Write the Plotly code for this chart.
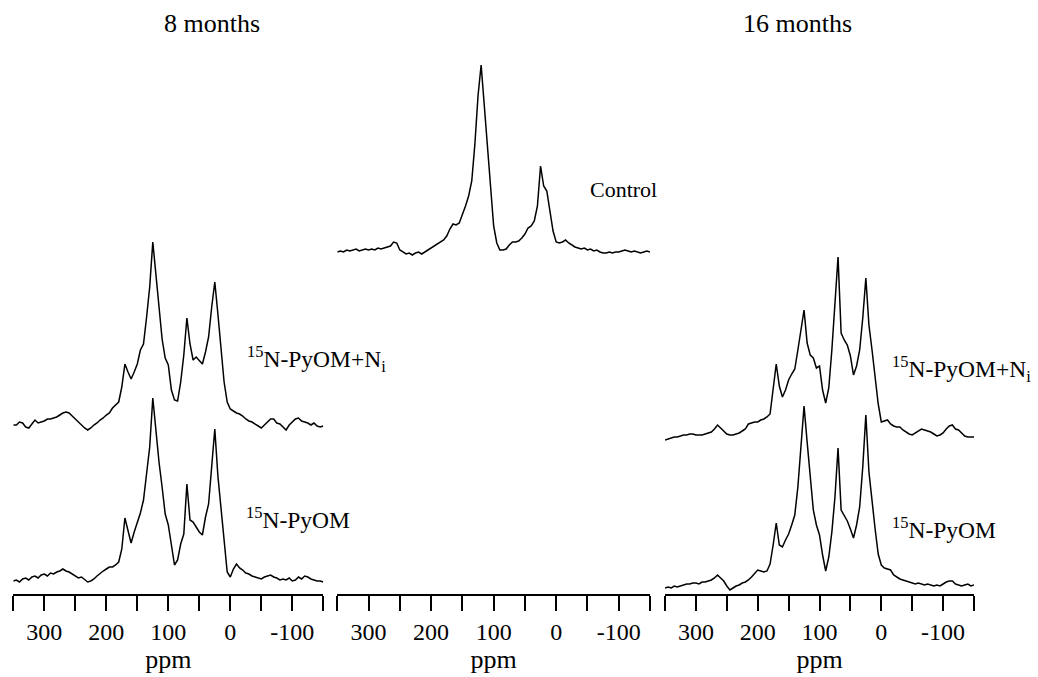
import plotly.graph_objects as go

W, H = 1038, 677
FONT = "Liberation Serif, Times New Roman, serif"

# chemical shift grid (ppm), high to low
PPM = list(range(350, -151, -5))

# 8 months: 15N-PyOM+Ni
pyom_ni_8 = [
    2, 2, 5, 4, 0, -1, 3, 7, 4, 5,
    6, 8, 8, 9, 10, 12, 14, 15, 14, 11,
    8, 4, 1, -1, -3, -1, 2, 4, 7, 9,
    12, 14, 19, 22, 25, 40, 63, 55, 48, 55,
    63, 77, 83, 110, 140, 185, 155, 118, 88, 69,
    62, 37, 27, 26, 45, 72, 109, 83, 67, 70,
    66, 63, 75, 90, 120, 145, 113, 75, 45, 25,
    18, 16, 14, 13, 11, 8, 6, 5, 3, 1,
    -1, 2, 5, 8, 8, 4, 3, 0, -3, 2,
    5, 8, 9, 6, 5, 4, 2, 4, 1, 0,
    1,
]

# 8 months: 15N-PyOM
pyom_8 = [
    1, 2, 0, 3, 4, 2, 5, 6, 4, 7,
    8, 6, 9, 8, 10, 11, 13, 11, 10, 8,
    6, 4, 5, 2, 0, 1, 3, 6, 9, 11,
    13, 15, 15, 17, 20, 33, 64, 50, 39, 50,
    59, 69, 82, 110, 135, 184, 150, 120, 95, 68,
    57, 35, 17, 22, 38, 48, 98, 62, 60, 55,
    50, 47, 65, 78, 120, 153, 106, 75, 40, 10,
    5, 13, 18, 14, 12, 9, 8, 6, 5, 4,
    3, 5, 6, 7, 5, 4, 2, 3, 2, 4,
    1, 2, 5, 3, 6, 5, 3, 2, 1, 1,
    0,
]

# Control
control = [
    -1, 0, -1, 1, 0, 1, 2, 0, 1, 2,
    1, 2, 1, 3, 2, 3, 4, 5, 9, 8,
    1, -1, -3, -2, -4, -2, -1, -3, -1, 1,
    3, 5, 7, 9, 11, 15, 22, 27, 26, 28,
    36, 45, 55, 70, 107, 155, 186, 145, 104, 60,
    25, 8, 1, 1, 2, 6, 9, 9, 10, 13,
    17, 23, 25, 30, 45, 85, 65, 60, 40, 20,
    9, 8, 9, 11, 8, 6, 4, 3, 2, 3,
    1, 2, 0, 1, -1, -2, -2, -1, -2, -1,
    -1, 0, 1, 0, -1, 0, -1, -2, -1, 0,
    -1,
]

# 16 months: 15N-PyOM+Ni
pyom_ni_16 = [
    -2, -1, 0, 1, 1, 2, 3, 3, 4, 4,
    3, 3, 3, 4, 5, 6, 9, 13, 10, 7,
    4, 3, 3, 4, 5, 7, 9, 14, 15, 16,
    16, 18, 19, 21, 24, 50, 74, 52, 41, 48,
    58, 64, 69, 88, 110, 128, 95, 83, 80, 70,
    72, 48, 35, 50, 88, 140, 181, 105, 98, 93,
    82, 63, 72, 88, 120, 160, 113, 88, 62, 34,
    16, 17, 18, 14, 12, 11, 11, 8, 6, 4,
    3, 5, 7, 9, 8, 7, 6, 4, 2, 3,
    5, 9, 12, 13, 9, 8, 5, 2, 1, 1,
    1,
]

# 16 months: 15N-PyOM
pyom_16 = [
    -1, 0, -1, 1, 0, 1, 2, 3, 3, 4,
    4, 3, 5, 5, 6, 7, 9, 12, 9, 6,
    1, -3, -1, 1, 2, 4, 5, 7, 10, 13,
    17, 16, 15, 16, 23, 42, 64, 42, 40, 47,
    53, 62, 72, 100, 143, 181, 145, 110, 77, 62,
    52, 32, 16, 30, 55, 90, 139, 77, 71, 66,
    58, 49, 62, 80, 120, 172, 115, 85, 58, 33,
    22, 19, 18, 17, 12, 10, 8, 7, 6, 5,
    4, 3, 4, 3, 2, 3, 2, 1, 2, 1,
    3, 5, 6, 6, 3, 2, 1, 2, 3, 1,
    2,
]

TICK_VALS = [350, 300, 250, 200, 150, 100, 50, 0, -50, -100, -150]
TICK_TEXT = ["", "300", "", "200", "", "100", "", "0", "", "-100", ""]

# stacking: (panel, spectrum, vertical offset in display units)
stack = [
    (1, pyom_ni_8, 167),
    (1, pyom_8, 12),
    (2, control, 343),
    (3, pyom_ni_16, 156),
    (3, pyom_16, 7),
]

# panel x extents in pixels
panel_px = {1: (13.3, 323.3), 2: (337.3, 650.0), 3: (665.0, 974.0)}
axis_y_px = 594
Y_BOTTOM = 1 - axis_y_px / H

fig = go.Figure()
for panel, spec, off in stack:
    sfx = "" if panel == 1 else str(panel)
    fig.add_trace(go.Scatter(
        x=PPM, y=[v + off for v in spec],
        mode="lines", line=dict(color="black", width=1.5),
        xaxis="x" + sfx, yaxis="y" + sfx, showlegend=False, hoverinfo="skip",
    ))

layout = dict(
    width=W, height=H, margin=dict(l=0, r=0, t=0, b=0),
    paper_bgcolor="white", plot_bgcolor="white",
    font=dict(family=FONT, color="black", size=22),
    showlegend=False,
)
for panel, (x0, x1) in panel_px.items():
    sfx = "" if panel == 1 else str(panel)
    layout["xaxis" + sfx] = dict(
        domain=[x0 / W, x1 / W], range=[350, -150],
        anchor="y" + sfx,
        tickmode="array", tickvals=TICK_VALS, ticktext=TICK_TEXT,
        ticks="outside", ticklen=15, tickwidth=2, tickcolor="black",
        showline=True, linewidth=2, linecolor="black",
        showgrid=False, zeroline=False,
        tickfont=dict(family=FONT, size=24, color="black"),
        title=dict(text="ppm", font=dict(family=FONT, size=26, color="black"), standoff=4),
    )
    layout["yaxis" + sfx] = dict(
        domain=[Y_BOTTOM, 1], range=[0, axis_y_px], anchor="x" + sfx,
        visible=False, fixedrange=True,
    )
fig.update_layout(**layout)


def label(text, px, py, size, xanchor="left"):
    fig.add_annotation(
        text=text, x=px / W, y=1 - py / H, xref="paper", yref="paper",
        xanchor=xanchor, yanchor="middle", showarrow=False,
        font=dict(family=FONT, size=size, color="black"),
    )


label("8 months", 212, 23, 26, "center")
label("16 months", 797, 23, 26, "center")
label("Control", 588, 190, 22)
label("<sup>15</sup>N-PyOM+N<sub>i</sub>", 245, 359, 23.5)
label("<sup>15</sup>N-PyOM", 244, 518, 23.5)
label("<sup>15</sup>N-PyOM+N<sub>i</sub>", 890, 369, 23.5)
label("<sup>15</sup>N-PyOM", 890, 528, 23.5)

fig.write_html("out.html")
